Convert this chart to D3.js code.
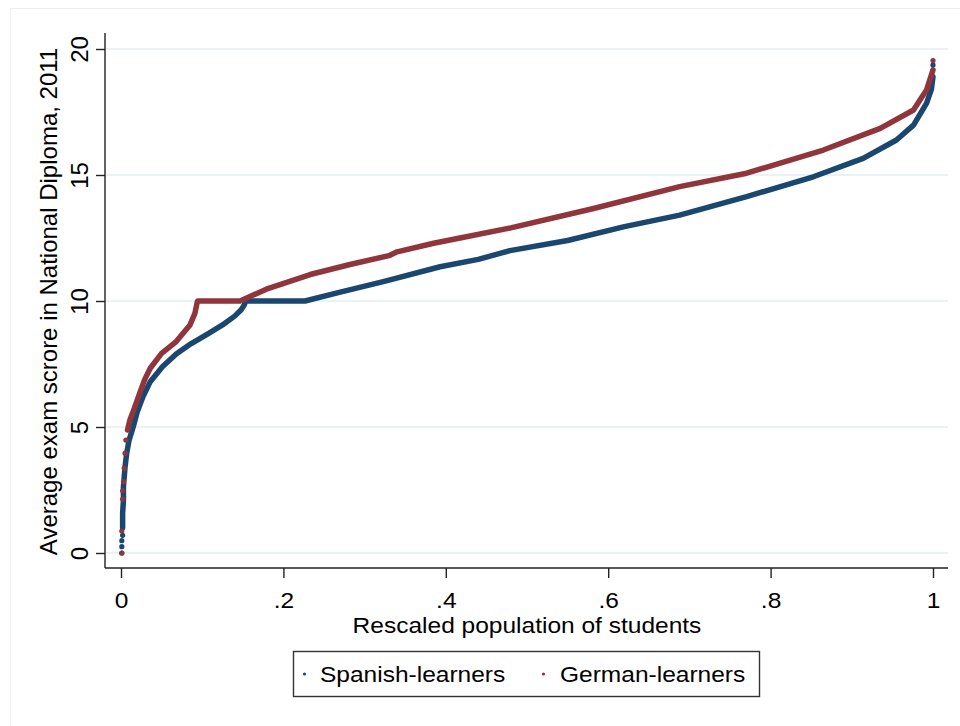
<!DOCTYPE html>
<html>
<head>
<meta charset="utf-8">
<script src="https://cdn.jsdelivr.net/npm/d3@7"></script>
<style>
  html, body { margin: 0; padding: 0; background: #ffffff; }
  svg { display: block; font-family: "Liberation Sans", Arial, sans-serif; }
</style>
</head>
<body>
<svg id="chart" width="960" height="726"></svg>
<script>
// Quantile curves: share of students (rescaled rank) vs. average exam score.
// Spanish-learners, continuous part of the curve
const spanishX = [0.002, 0.002, 0.003, 0.003, 0.005, 0.007, 0.010, 0.015, 0.020, 0.027, 0.036, 0.051, 0.068, 0.086, 0.107, 0.125, 0.140, 0.148, 0.152, 0.1535, 0.2266, 0.27, 0.323, 0.393, 0.44, 0.479, 0.55, 0.62, 0.688, 0.7705, 0.8526, 0.914, 0.955, 0.976, 0.992, 0.998, 1.0];
const spanishY = [1.0, 1.57, 2.1, 2.63, 3.42, 3.96, 4.48, 5.0, 5.6, 6.2, 6.8, 7.39, 7.9, 8.3, 8.7, 9.05, 9.4, 9.65, 9.85, 10, 10, 10.35, 10.77, 11.36, 11.65, 12.0, 12.4, 12.95, 13.41, 14.14, 14.93, 15.66, 16.39, 16.98, 17.84, 18.4, 18.9];
// Spanish-learners, isolated observations at the extremes
const spanishDotsX = [0.001, 0.001, 0.001, 0.002, 1.0];
const spanishDotsY = [0.0, 0.25, 0.49, 0.7, 19.37];

// German-learners, continuous part of the curve
const germanX = [0.008, 0.011, 0.017, 0.023, 0.029, 0.036, 0.050, 0.068, 0.085, 0.091, 0.094, 0.0944, 0.1466, 0.179, 0.233, 0.282, 0.33, 0.34, 0.385, 0.4175, 0.48, 0.582, 0.688, 0.7705, 0.865, 0.935, 0.976, 0.992, 1.0];
const germanY = [4.88, 5.28, 5.8, 6.34, 6.87, 7.33, 7.92, 8.39, 9.05, 9.51, 9.97, 10, 10, 10.47, 11.05, 11.45, 11.8, 11.95, 12.29, 12.5, 12.9, 13.67, 14.54, 15.07, 15.99, 16.85, 17.58, 18.37, 19.17];
// German-learners, isolated observations at the extremes
const germanDotsX = [0.001, 0.001, 0.002, 0.002, 0.003, 0.004, 0.005, 0.006, 1.0];
const germanDotsY = [0.0, 0.87, 2.14, 2.47, 2.83, 3.36, 3.96, 4.48, 19.54];

const seriesNames = ["Spanish-learners", "German-learners"];
const seriesColors = ["#1a476f", "#90353b"];
const xTicks = [0, 0.2, 0.4, 0.6, 0.8, 1];
const xTickLabels = ["0", ".2", ".4", ".6", ".8", "1"];
const yTicks = [0, 5, 10, 15, 20];
const xTitle = "Rescaled population of students";
const yTitle = "Average exam scrore in National Diploma, 2011";

// horizontal text is set slightly wide, as in the exported graph
const FONT = 22.5;
const STRETCH = 1.09;
const VFONT = 24;

const svg = d3.select("#chart");

// faint outer graph-region frame
svg.append("rect")
  .attr("x", 10.5).attr("y", 8.5).attr("width", 980).attr("height", 740)
  .attr("fill", "none").attr("stroke", "#eeeeee").attr("stroke-width", 1);

const plot = { left: 105, right: 948, top: 33, bottom: 568 };
const x = d3.scaleLinear().domain([0, 1]).range([121, 933]);
const y = d3.scaleLinear().domain([0, 20]).range([553, 49]);

// horizontal gridlines
svg.append("g")
  .selectAll("line")
  .data(yTicks)
  .join("line")
  .attr("x1", plot.left).attr("x2", plot.right)
  .attr("y1", d => y(d)).attr("y2", d => y(d))
  .attr("stroke", "#eaf2f3").attr("stroke-width", 2);

// y axis
const yAxis = svg.append("g")
  .attr("transform", `translate(${plot.left},0)`)
  .call(d3.axisLeft(y).tickValues(yTicks).tickSize(9).tickPadding(0).tickFormat(d3.format("d")));
yAxis.select(".domain").attr("d", `M0,${plot.top}V${plot.bottom}`).attr("stroke", "#222").attr("stroke-width", 1.4);
yAxis.selectAll(".tick line").attr("stroke", "#222").attr("stroke-width", 1.4);
yAxis.selectAll(".tick text")
  .attr("x", 0).attr("dy", 0)
  .attr("transform", "translate(-17,0) rotate(-90)")
  .attr("text-anchor", "middle")
  .attr("font-size", VFONT)
  .attr("font-family", "Liberation Sans, Arial, sans-serif")
  .attr("fill", "#000");

// x axis
const xAxis = svg.append("g")
  .attr("transform", `translate(0,${plot.bottom})`)
  .call(d3.axisBottom(x).tickValues(xTicks).tickSize(10).tickPadding(0)
    .tickFormat((d, i) => xTickLabels[i]));
xAxis.select(".domain").attr("d", `M${plot.left},0H${plot.right}`).attr("stroke", "#222").attr("stroke-width", 1.4);
xAxis.selectAll(".tick line").attr("stroke", "#222").attr("stroke-width", 1.4);
xAxis.selectAll(".tick text")
  .attr("y", 0).attr("dy", 0)
  .attr("transform", `translate(0,40) scale(${STRETCH},1)`)
  .attr("font-size", FONT)
  .attr("font-family", "Liberation Sans, Arial, sans-serif")
  .attr("fill", "#000");

// axis titles
svg.append("text")
  .attr("transform", `translate(527,633) scale(${STRETCH},1)`)
  .attr("text-anchor", "middle")
  .attr("font-size", FONT)
  .attr("fill", "#000")
  .text(xTitle);
svg.append("text")
  .attr("transform", `translate(57,${(plot.top + plot.bottom) / 2 + 1}) rotate(-90)`)
  .attr("text-anchor", "middle")
  .attr("font-size", VFONT)
  .attr("fill", "#000")
  .text(yTitle);

// series: dense markers rendered as a thick band plus individual dots
const series = [
  { xs: spanishX, ys: spanishY, dx: spanishDotsX, dy: spanishDotsY, color: seriesColors[0] },
  { xs: germanX, ys: germanY, dx: germanDotsX, dy: germanDotsY, color: seriesColors[1] }
];
const line = d3.line().x(d => x(d[0])).y(d => y(d[1]));
const marks = svg.append("g");
series.forEach(s => {
  const pts = d3.zip(s.xs, s.ys);
  marks.append("path")
    .attr("d", line(pts))
    .attr("fill", "none")
    .attr("stroke", s.color)
    .attr("stroke-width", 5.5)
    .attr("stroke-linejoin", "round")
    .attr("stroke-linecap", "round");
  marks.append("g")
    .selectAll("circle")
    .data(d3.zip(s.dx, s.dy))
    .join("circle")
    .attr("cx", d => x(d[0]))
    .attr("cy", d => y(d[1]))
    .attr("r", 2.6)
    .attr("fill", s.color);
});

// legend
const legend = svg.append("g");
legend.append("rect")
  .attr("x", 293.5).attr("y", 651.5).attr("width", 466).attr("height", 45)
  .attr("fill", "#fff").attr("stroke", "#333").attr("stroke-width", 1.4);
const legendPos = [{ dot: 304.5, text: 320 }, { dot: 543.5, text: 560 }];
seriesNames.forEach((name, i) => {
  legend.append("circle")
    .attr("cx", legendPos[i].dot).attr("cy", 674).attr("r", 1.6)
    .attr("fill", seriesColors[i]);
  legend.append("text")
    .attr("transform", `translate(${legendPos[i].text},682) scale(${STRETCH},1)`)
    .attr("font-size", FONT)
    .attr("fill", "#000")
    .text(name);
});
</script>
</body>
</html>
